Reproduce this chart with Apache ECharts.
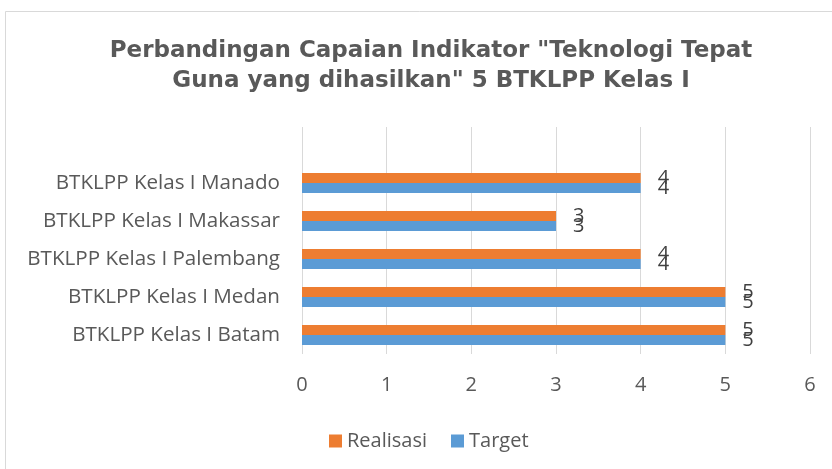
<!DOCTYPE html>
<html>
<head>
<meta charset="utf-8">
<style>
  html, body { margin: 0; padding: 0; background: #ffffff; }
  #chart { width: 832px; height: 469px; }
</style>
<script src="https://cdn.jsdelivr.net/npm/echarts@6/dist/echarts.min.js"></script>
</head>
<body>
<div id="chart"></div>
<script>
  // kategori dari bawah ke atas (urutan sumbu)
  var categories = [
    "BTKLPP Kelas I Batam",
    "BTKLPP Kelas I Medan",
    "BTKLPP Kelas I Palembang",
    "BTKLPP Kelas I Makassar",
    "BTKLPP Kelas I Manado"
  ];
  var realisasiValues = [5, 5, 4, 3, 4];
  var targetValues = [5, 5, 4, 3, 4];
  var xTicks = [0, 1, 2, 3, 4, 5, 6];

  var TEXT = "#595959";
  var FONT = "'Open Sans', sans-serif";
  var GRID_COLOR = "#D9D9D9";

  function barLabel() {
    return {
      show: true,
      position: "right",
      distance: 17,
      color: "#404040",
      fontFamily: FONT,
      fontSize: 20
    };
  }

  var chart = echarts.init(document.getElementById("chart"), null, { renderer: "canvas" });

  chart.setOption({
    backgroundColor: "#ffffff",
    animation: false,
    graphic: [
      {
        type: "rect",
        shape: { x: 5.5, y: 11.5, width: 900, height: 500 },
        style: { fill: "none", stroke: GRID_COLOR, lineWidth: 1 },
        silent: true
      }
    ],
    title: {
      text: 'Perbandingan Capaian Indikator "Teknologi Tepat\nGuna yang dihasilkan" 5 BTKLPP Kelas I',
      left: 426,
      top: 31,
      textAlign: "center",
      textStyle: {
        color: TEXT,
        fontFamily: "'DejaVu Sans', sans-serif",
        fontWeight: "bold",
        fontSize: 23,
        lineHeight: 30
      }
    },
    legend: {
      data: ["Realisasi", "Target"],
      left: 324,
      top: 426,
      itemWidth: 13,
      itemHeight: 13,
      itemGap: 24,
      icon: "rect",
      textStyle: { color: TEXT, fontFamily: FONT, fontSize: 20 }
    },
    grid: [
      { left: 302, right: 22, top: 164, bottom: 115, containLabel: false },
      // gridlines continue above the first category
      { left: 302, right: 22, top: 127, height: 37, containLabel: false }
    ],
    xAxis: [
      {
        type: "value",
        gridIndex: 0,
        min: xTicks[0],
        max: xTicks[xTicks.length - 1],
        interval: 1,
        axisLine: { show: false },
        axisTick: { show: false },
        splitLine: { show: true, lineStyle: { color: GRID_COLOR, width: 1 } },
        axisLabel: { color: TEXT, fontFamily: FONT, fontSize: 20, margin: 21 }
      },
      {
        type: "value",
        gridIndex: 1,
        min: xTicks[0],
        max: xTicks[xTicks.length - 1],
        interval: 1,
        axisLine: { show: false },
        axisTick: { show: false },
        axisLabel: { show: false },
        splitLine: { show: true, lineStyle: { color: GRID_COLOR, width: 1 } }
      }
    ],
    yAxis: [
      {
        type: "category",
        gridIndex: 0,
        data: categories,
        axisLine: { show: false },
        axisTick: { show: false },
        axisLabel: { color: TEXT, fontFamily: FONT, fontSize: 20.6, margin: 22 }
      },
      {
        type: "value",
        gridIndex: 1,
        show: false,
        splitLine: { show: false }
      }
    ],
    series: [
      {
        name: "Realisasi",
        type: "bar",
        data: realisasiValues,
        barWidth: 10,
        barGap: "0%",
        itemStyle: { color: "#ED7D31" },
        label: barLabel()
      },
      {
        name: "Target",
        type: "bar",
        data: targetValues,
        barWidth: 10,
        barGap: "0%",
        itemStyle: { color: "#5B9BD5" },
        label: barLabel()
      }
    ]
  });
</script>
</body>
</html>
